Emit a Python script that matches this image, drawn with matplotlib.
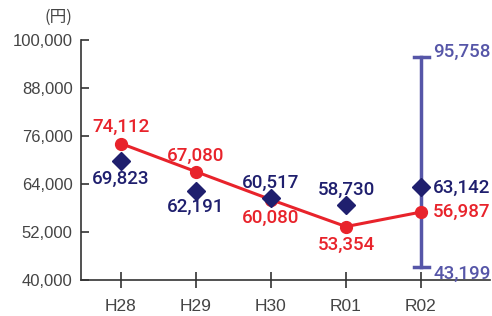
import matplotlib
matplotlib.use("Agg")
import matplotlib.pyplot as plt

plt.rcParams['font.family'] = ['Liberation Sans', 'Noto Sans CJK JP', 'DejaVu Sans']

years = ['H28', 'H29', 'H30', 'R01', 'R02']
red_vals = [74112, 67080, 60080, 53354, 56987]
navy_vals = [69823, 62191, 60517, 58730, 63142]
err_low = 43199
err_high = 95758
yticks = [40000, 52000, 64000, 76000, 88000, 100000]

RED = '#e8232b'
NAVY = '#1f1f6e'
ERR = '#5656a8'
GRAY = '#444444'

fig = plt.figure(figsize=(4.92, 3.16), dpi=100)
ax = fig.add_axes([81 / 492, 36 / 316, 409 / 492, 240 / 316])

x = list(range(len(years)))

# range bar for the last year
ax.plot([4, 4], [err_low, err_high], color=ERR, lw=2.5, zorder=1)
ax.plot([3.9, 4.1], [err_low, err_low], color=ERR, lw=2.5, zorder=1)
ax.plot([3.9, 4.1], [err_high, err_high], color=ERR, lw=2.5, zorder=1)

ax.plot(x, red_vals, color=RED, lw=2.2, marker='o', ms=8.5, zorder=3)
ax.plot(x, navy_vals, ls='none', color=NAVY, marker='D', ms=9, zorder=4)

fs = 13.5
lab = dict(fontsize=fs, family=['Roboto', 'Liberation Sans'], fontweight='medium')
# offsets in px: (dx, dy, ha)
red_off = [(0, 17, 'center'), (0, 16, 'center'), (0, -18, 'center'), (0, -18, 'center'), (12, 0, 'left')]
navy_off = [(0, -18, 'center'), (0, -16, 'center'), (0, 15, 'center'), (0, 15, 'center'), (12, 0, 'left')]

for i in x:
    dx, dy, ha = red_off[i]
    ax.annotate(f'{red_vals[i]:,}', (i, red_vals[i]), xytext=(dx * 0.72, dy * 0.72),
                textcoords='offset points', ha=ha, va='center', color=RED, **lab)
    dx, dy, ha = navy_off[i]
    ax.annotate(f'{navy_vals[i]:,}', (i, navy_vals[i]), xytext=(dx * 0.72, dy * 0.72),
                textcoords='offset points', ha=ha, va='center', color=NAVY, **lab)

ax.annotate(f'{err_high:,}', (4, err_high), xytext=(12 * 0.72, 5 * 0.72),
            textcoords='offset points', ha='left', va='center', color=ERR, **lab)
ax.annotate(f'{err_low:,}', (4, err_low), xytext=(12 * 0.72, -7 * 0.72),
            textcoords='offset points', ha='left', va='center', color=ERR, **lab)

ax.set_xlim(-40 / 75, 369 / 75)
ax.set_ylim(40000, 100000)
ax.set_xticks(x)
ax.set_xticklabels(years)
ax.set_yticks(yticks)
ax.set_yticklabels([f'{v:,}' for v in yticks])

for s in ['top', 'right']:
    ax.spines[s].set_visible(False)
for s in ['left', 'bottom']:
    ax.spines[s].set_color('#333333')
    ax.spines[s].set_linewidth(1.2)

ax.tick_params(axis='y', direction='in', length=6, width=1.2, color='#333333',
               labelsize=12, labelcolor=GRAY, pad=6)
ax.tick_params(axis='x', direction='inout', length=11, width=1.2, color='#333333',
               labelsize=12.5, labelcolor=GRAY, pad=8)

fig.text(58 / 492, 1 - 17 / 316, '(円)', ha='center', va='center', fontsize=12,
         color=GRAY, family=['Noto Sans CJK JP', 'DejaVu Sans'])

fig.savefig('out.png', dpi=100)
